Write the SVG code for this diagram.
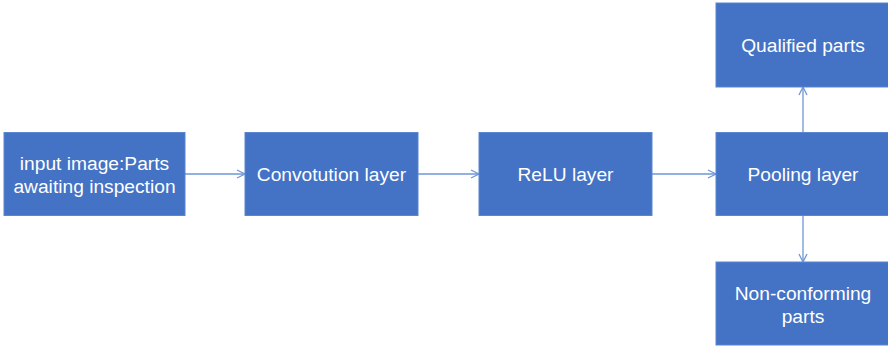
<svg xmlns="http://www.w3.org/2000/svg" width="888" height="348" viewBox="0 0 888 348">
  <defs>
    <style>
      .box { fill: #4472C4; stroke: #5A86D0; stroke-width: 1; }
      .lbl { fill: #FFFFFF; font-family: "Liberation Sans", Arial, sans-serif; font-size: 19.2px; text-anchor: middle; dominant-baseline: central; }
      .edge { stroke: #6F96D8; stroke-width: 1.3; fill: none; marker-end: url(#chev); }
    </style>
    <marker id="chev" viewBox="0 0 10 10" refX="9" refY="5" markerWidth="10" markerHeight="10" markerUnits="userSpaceOnUse" orient="auto">
      <path d="M1,1 L9,5 L1,9" fill="none" stroke="#6F96D8" stroke-width="1.3"/>
    </marker>
  </defs>
  <rect width="888" height="348" fill="#FFFFFF"/>

  <g id="connectors">
    <line class="edge" x1="185" y1="174" x2="245" y2="174"/>
    <line class="edge" x1="418" y1="174" x2="479" y2="174"/>
    <line class="edge" x1="652" y1="174" x2="716" y2="174"/>
    <line class="edge" x1="803" y1="132" x2="803" y2="87"/>
    <line class="edge" x1="803" y1="216" x2="803" y2="262"/>
  </g>

  <g id="input">
    <rect class="box" x="4" y="132.5" width="181" height="83"/>
    <text class="lbl" x="94.5" y="163">input image:Parts</text>
    <text class="lbl" x="94.5" y="186">awaiting inspection</text>
  </g>
  <g id="conv">
    <rect class="box" x="245" y="132.5" width="173" height="83"/>
    <text class="lbl" x="331.5" y="174">Convotution layer</text>
  </g>
  <g id="relu">
    <rect class="box" x="479" y="132.5" width="173" height="83"/>
    <text class="lbl" x="565.5" y="174">ReLU layer</text>
  </g>
  <g id="pooling">
    <rect class="box" x="716" y="132.5" width="174" height="83"/>
    <text class="lbl" x="803" y="174">Pooling layer</text>
  </g>
  <g id="qualified">
    <rect class="box" x="716" y="3" width="174" height="84"/>
    <text class="lbl" x="803" y="45">Qualified parts</text>
  </g>
  <g id="nonconforming">
    <rect class="box" x="716" y="262" width="174" height="83"/>
    <text class="lbl" x="803" y="293">Non-conforming</text>
    <text class="lbl" x="803" y="316">parts</text>
  </g>
</svg>
